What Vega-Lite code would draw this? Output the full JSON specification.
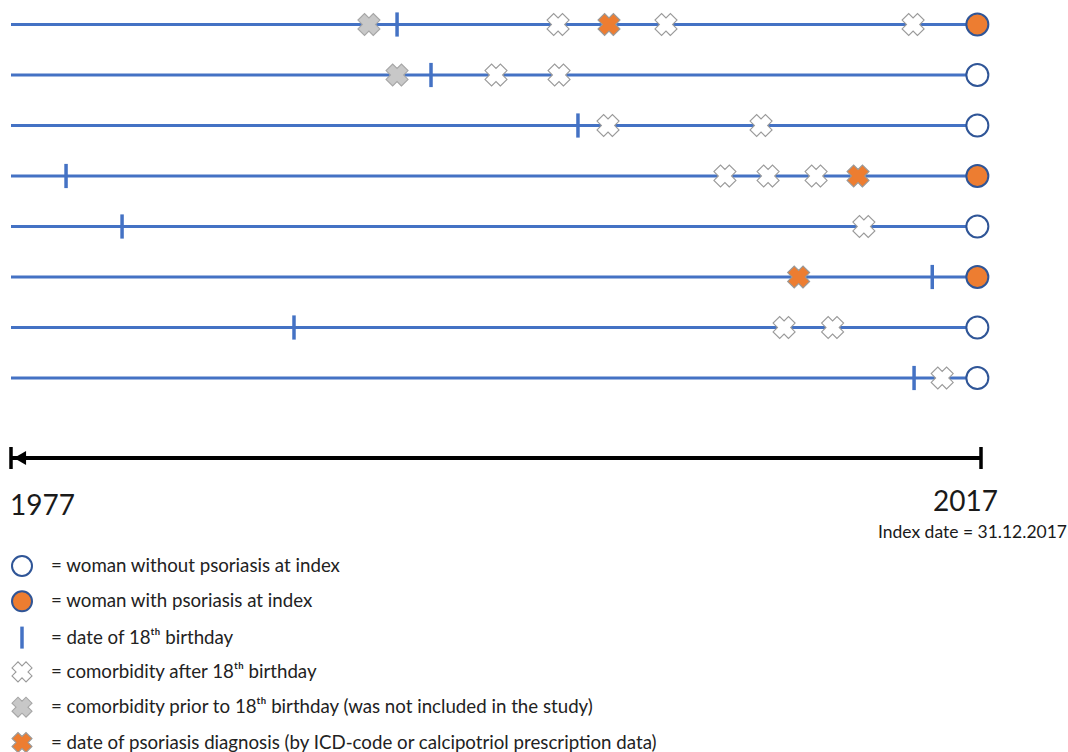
{
  "$schema": "https://vega.github.io/schema/vega-lite/v6.json",
  "width": 1068,
  "height": 752,
  "padding": 0,
  "autosize": {"type": "none"},
  "background": "white",
  "config": {"view": {"stroke": null}, "font": "Lato", "axis": {"disable": true}},
  "datasets": {
    "women": [
      {"woman": 1, "start": 1977, "index": 2016.85},
      {"woman": 2, "start": 1977, "index": 2016.85},
      {"woman": 3, "start": 1977, "index": 2016.85},
      {"woman": 4, "start": 1977, "index": 2016.85},
      {"woman": 5, "start": 1977, "index": 2016.85},
      {"woman": 6, "start": 1977, "index": 2016.85},
      {"woman": 7, "start": 1977, "index": 2016.85},
      {"woman": 8, "start": 1977, "index": 2016.85}
    ],
    "events": [
      {"woman": 1, "year": 1991.76, "event": "comorbidity prior to 18ᵗʰ birthday (was not included in the study)"},
      {"woman": 1, "year": 1992.92, "event": "date of 18ᵗʰ birthday"},
      {"woman": 1, "year": 1999.56, "event": "comorbidity after 18ᵗʰ birthday"},
      {"woman": 1, "year": 2001.66, "event": "date of psoriasis diagnosis (by ICD-code or calcipotriol prescription data)"},
      {"woman": 1, "year": 2004.01, "event": "comorbidity after 18ᵗʰ birthday"},
      {"woman": 1, "year": 2014.2, "event": "comorbidity after 18ᵗʰ birthday"},
      {"woman": 1, "year": 2016.85, "event": "woman with psoriasis at index"},
      {"woman": 2, "year": 1992.92, "event": "comorbidity prior to 18ᵗʰ birthday (was not included in the study)"},
      {"woman": 2, "year": 1994.32, "event": "date of 18ᵗʰ birthday"},
      {"woman": 2, "year": 1997.0, "event": "comorbidity after 18ᵗʰ birthday"},
      {"woman": 2, "year": 1999.6, "event": "comorbidity after 18ᵗʰ birthday"},
      {"woman": 2, "year": 2016.85, "event": "woman without psoriasis at index"},
      {"woman": 3, "year": 2000.38, "event": "date of 18ᵗʰ birthday"},
      {"woman": 3, "year": 2001.62, "event": "comorbidity after 18ᵗʰ birthday"},
      {"woman": 3, "year": 2007.93, "event": "comorbidity after 18ᵗʰ birthday"},
      {"woman": 3, "year": 2016.85, "event": "woman without psoriasis at index"},
      {"woman": 4, "year": 1979.27, "event": "date of 18ᵗʰ birthday"},
      {"woman": 4, "year": 2006.44, "event": "comorbidity after 18ᵗʰ birthday"},
      {"woman": 4, "year": 2008.22, "event": "comorbidity after 18ᵗʰ birthday"},
      {"woman": 4, "year": 2010.2, "event": "comorbidity after 18ᵗʰ birthday"},
      {"woman": 4, "year": 2011.93, "event": "date of psoriasis diagnosis (by ICD-code or calcipotriol prescription data)"},
      {"woman": 4, "year": 2016.85, "event": "woman with psoriasis at index"},
      {"woman": 5, "year": 1981.58, "event": "date of 18ᵗʰ birthday"},
      {"woman": 5, "year": 2012.17, "event": "comorbidity after 18ᵗʰ birthday"},
      {"woman": 5, "year": 2016.85, "event": "woman without psoriasis at index"},
      {"woman": 6, "year": 2009.48, "event": "date of psoriasis diagnosis (by ICD-code or calcipotriol prescription data)"},
      {"woman": 6, "year": 2014.99, "event": "date of 18ᵗʰ birthday"},
      {"woman": 6, "year": 2016.85, "event": "woman with psoriasis at index"},
      {"woman": 7, "year": 1988.67, "event": "date of 18ᵗʰ birthday"},
      {"woman": 7, "year": 2008.88, "event": "comorbidity after 18ᵗʰ birthday"},
      {"woman": 7, "year": 2010.88, "event": "comorbidity after 18ᵗʰ birthday"},
      {"woman": 7, "year": 2016.85, "event": "woman without psoriasis at index"},
      {"woman": 8, "year": 2014.24, "event": "date of 18ᵗʰ birthday"},
      {"woman": 8, "year": 2015.4, "event": "comorbidity after 18ᵗʰ birthday"},
      {"woman": 8, "year": 2016.85, "event": "woman without psoriasis at index"}
    ],
    "axisEnds": [
      {"year": 1977, "label": "1977", "note": ""},
      {"year": 2017, "label": "2017", "note": "Index date = 31.12.2017"}
    ]
  },
  "layer": [
    {
      "data": {"name": "women"},
      "mark": {"type": "rule", "stroke": "#4472C4", "strokeWidth": 3},
      "encoding": {
        "x": {"field": "start", "type": "quantitative", "scale": {"domain": [1977, 2017], "range": [11, 981], "nice": false, "zero": false}},
        "x2": {"field": "index"},
        "y": {"field": "woman", "type": "quantitative", "scale": {"domain": [1, 8], "range": [24.5, 378], "nice": false, "zero": false}}
      }
    },
    {
      "data": {"name": "events"},
      "mark": {"type": "point", "opacity": 1, "size": 484, "filled": true},
      "encoding": {
        "x": {"field": "year", "type": "quantitative"},
        "y": {"field": "woman", "type": "quantitative"},
        "fill": {
          "field": "event", "type": "nominal",
          "scale": {
            "domain": ["woman without psoriasis at index", "woman with psoriasis at index", "date of 18ᵗʰ birthday", "comorbidity after 18ᵗʰ birthday", "comorbidity prior to 18ᵗʰ birthday (was not included in the study)", "date of psoriasis diagnosis (by ICD-code or calcipotriol prescription data)"],
            "range": ["#FFFFFF", "#ED7D31", "#4472C4", "#FFFFFF", "#C8C8C8", "#ED7D31"]
          },
          "legend": {
            "orient": "none", "legendX": 10, "legendY": 555, "title": null,
            "symbolSize": 400, "symbolOpacity": 1,
            "labelFont": "Lato", "labelFontSize": 18.7, "labelColor": "#222222",
            "labelOffset": 17, "rowPadding": -0.7, "gridAlign": "all", "labelLimit": 0, "symbolLimit": 0, "padding": 0,
            "direction": "vertical",
            "labelExpr": "'= ' + datum.label"
          }
        },
        "stroke": {
          "field": "event", "type": "nominal",
          "scale": {
            "domain": ["woman without psoriasis at index", "woman with psoriasis at index", "date of 18ᵗʰ birthday", "comorbidity after 18ᵗʰ birthday", "comorbidity prior to 18ᵗʰ birthday (was not included in the study)", "date of psoriasis diagnosis (by ICD-code or calcipotriol prescription data)"],
            "range": ["#2F5597", "#2F5597", "#4472C4", "#9A9A9A", "#A6A6A6", "#9A9A9A"]
          }
        },
        "shape": {
          "field": "event", "type": "nominal",
          "scale": {
            "domain": ["woman without psoriasis at index", "woman with psoriasis at index", "date of 18ᵗʰ birthday", "comorbidity after 18ᵗʰ birthday", "comorbidity prior to 18ᵗʰ birthday (was not included in the study)", "date of psoriasis diagnosis (by ICD-code or calcipotriol prescription data)"],
            "range": ["circle", "circle", "M0,-1.1L0,1.1", "M0.4,1L0,0.6L-0.4,1L-1,0.4L-0.6,0L-1,-0.4L-0.4,-1L0,-0.6L0.4,-1L1,-0.4L0.6,0L1,0.4Z", "M0.4,1L0,0.6L-0.4,1L-1,0.4L-0.6,0L-1,-0.4L-0.4,-1L0,-0.6L0.4,-1L1,-0.4L0.6,0L1,0.4Z", "M0.4,1L0,0.6L-0.4,1L-1,0.4L-0.6,0L-1,-0.4L-0.4,-1L0,-0.6L0.4,-1L1,-0.4L0.6,0L1,0.4Z"]
          }
        },
        "strokeWidth": {
          "field": "event", "type": "nominal",
          "scale": {
            "type": "ordinal",
            "domain": ["woman without psoriasis at index", "woman with psoriasis at index", "date of 18ᵗʰ birthday", "comorbidity after 18ᵗʰ birthday", "comorbidity prior to 18ᵗʰ birthday (was not included in the study)", "date of psoriasis diagnosis (by ICD-code or calcipotriol prescription data)"],
            "range": [2, 2, 3.5, 1.1, 1.1, 1.1]
          }
        }
      }
    },
    {
      "data": {"name": "axisEnds"},
      "mark": {"type": "rule", "stroke": "#000000", "strokeWidth": 4},
      "encoding": {
        "x": {"aggregate": "min", "field": "year", "type": "quantitative"},
        "x2": {"aggregate": "max", "field": "year"},
        "y": {"datum": 9.584, "type": "quantitative"}
      }
    },
    {
      "data": {"name": "axisEnds"},
      "mark": {"type": "point", "shape": "M0,-1L0,1", "size": 484, "stroke": "#000000", "strokeWidth": 3.5, "opacity": 1, "filled": false},
      "encoding": {
        "x": {"field": "year", "type": "quantitative"},
        "y": {"datum": 9.584, "type": "quantitative"}
      }
    },
    {
      "data": {"name": "axisEnds"},
      "transform": [{"filter": "datum.year == 1977"}],
      "mark": {"type": "point", "shape": "triangle-left", "size": 196, "fill": "#000000", "opacity": 1, "filled": true, "strokeWidth": 0},
      "encoding": {
        "x": {"field": "year", "type": "quantitative"},
        "xOffset": {"value": 9},
        "y": {"datum": 9.584, "type": "quantitative"}
      }
    },
    {
      "data": {"name": "axisEnds"},
      "transform": [{"filter": "datum.year == 1977"}],
      "mark": {"type": "text", "align": "left", "baseline": "alphabetic", "fontSize": 28, "font": "Lato", "color": "#1a1a1a", "dx": -1},
      "encoding": {
        "x": {"field": "year", "type": "quantitative"},
        "y": {"datum": 10.713, "type": "quantitative"},
        "text": {"field": "label"}
      }
    },
    {
      "data": {"name": "axisEnds"},
      "transform": [{"filter": "datum.year == 2017"}],
      "mark": {"type": "text", "align": "right", "baseline": "alphabetic", "fontSize": 28, "font": "Lato", "color": "#1a1a1a", "dx": 17},
      "encoding": {
        "x": {"field": "year", "type": "quantitative"},
        "y": {"datum": 10.634, "type": "quantitative"},
        "text": {"field": "label"}
      }
    },
    {
      "data": {"name": "axisEnds"},
      "transform": [{"filter": "datum.year == 2017"}],
      "mark": {"type": "text", "align": "right", "baseline": "alphabetic", "fontSize": 17.5, "font": "Lato", "color": "#1a1a1a", "dx": 86},
      "encoding": {
        "x": {"field": "year", "type": "quantitative"},
        "y": {"datum": 11.168, "type": "quantitative"},
        "text": {"field": "note"}
      }
    }
  ]
}
